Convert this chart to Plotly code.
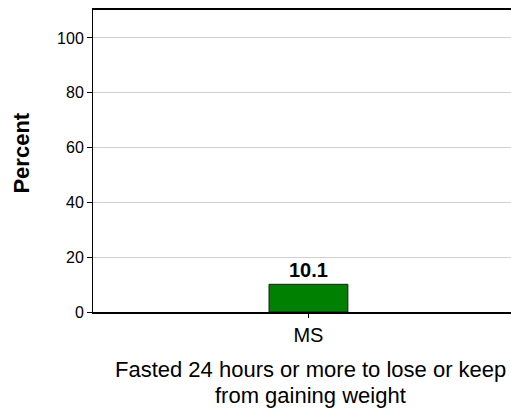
import plotly.graph_objects as go

categories = ["MS"]
values = [10.1]
value_labels = ["10.1"]
y_ticks = [0, 20, 40, 60, 80, 100]
x_title_lines = ["Fasted 24 hours or more to lose or keep", "from gaining weight"]
y_title = "Percent"

FONT = "Liberation Sans, Arial, sans-serif"

fig = go.Figure()
fig.add_trace(go.Bar(
    x=[0], y=values, width=0.183,
    marker=dict(color="#008000", line=dict(color="#1a1a1a", width=1)),
    text=value_labels, textposition="outside",
    textfont=dict(family=FONT, size=20, color="black"),
    texttemplate="<b>%{text}</b>", cliponaxis=False,
    hoverinfo="skip",
))

annotations = [
    dict(x=-0.172, xref="paper", y=0.525, yref="paper",
         xanchor="center", yanchor="middle", textangle=-90,
         text="<b>" + y_title + "</b>", showarrow=False,
         font=dict(family=FONT, size=22)),
]
for i, line in enumerate(x_title_lines):
    annotations.append(dict(
        x=0.5215, xref="paper", y=[-0.192, -0.275][i], yref="paper",
        xanchor="center", yanchor="middle",
        text=line, showarrow=False,
        font=dict(family=FONT, size=22),
    ))

fig.update_layout(
    width=511, height=411,
    margin=dict(l=93, r=0, t=10, b=99, autoexpand=False),
    paper_bgcolor="white", plot_bgcolor="white",
    font=dict(family=FONT, color="black", size=16),
    showlegend=False,
    xaxis=dict(
        range=[-0.5, 0.47], tickmode="array", tickvals=[0], ticktext=categories,
        showline=True, linecolor="black", linewidth=1.5, mirror=True,
        ticks="outside", ticklen=4, tickcolor="black",
        tickfont=dict(family=FONT, size=20), showgrid=False, zeroline=False,
        automargin=False,
    ),
    yaxis=dict(
        range=[0, 110.2], tickvals=y_ticks,
        showline=True, linecolor="black", linewidth=1,
        ticks="outside", ticklen=5, tickcolor="black",
        tickfont=dict(family=FONT, size=16),
        showgrid=True, gridcolor="#d0d0d0", gridwidth=1, zeroline=False,
        automargin=False,
    ),
    annotations=annotations,
)

fig.write_html("out.html", config={"displayModeBar": False},
               post_script="document.body.style.margin='0';document.body.style.overflow='hidden';")
